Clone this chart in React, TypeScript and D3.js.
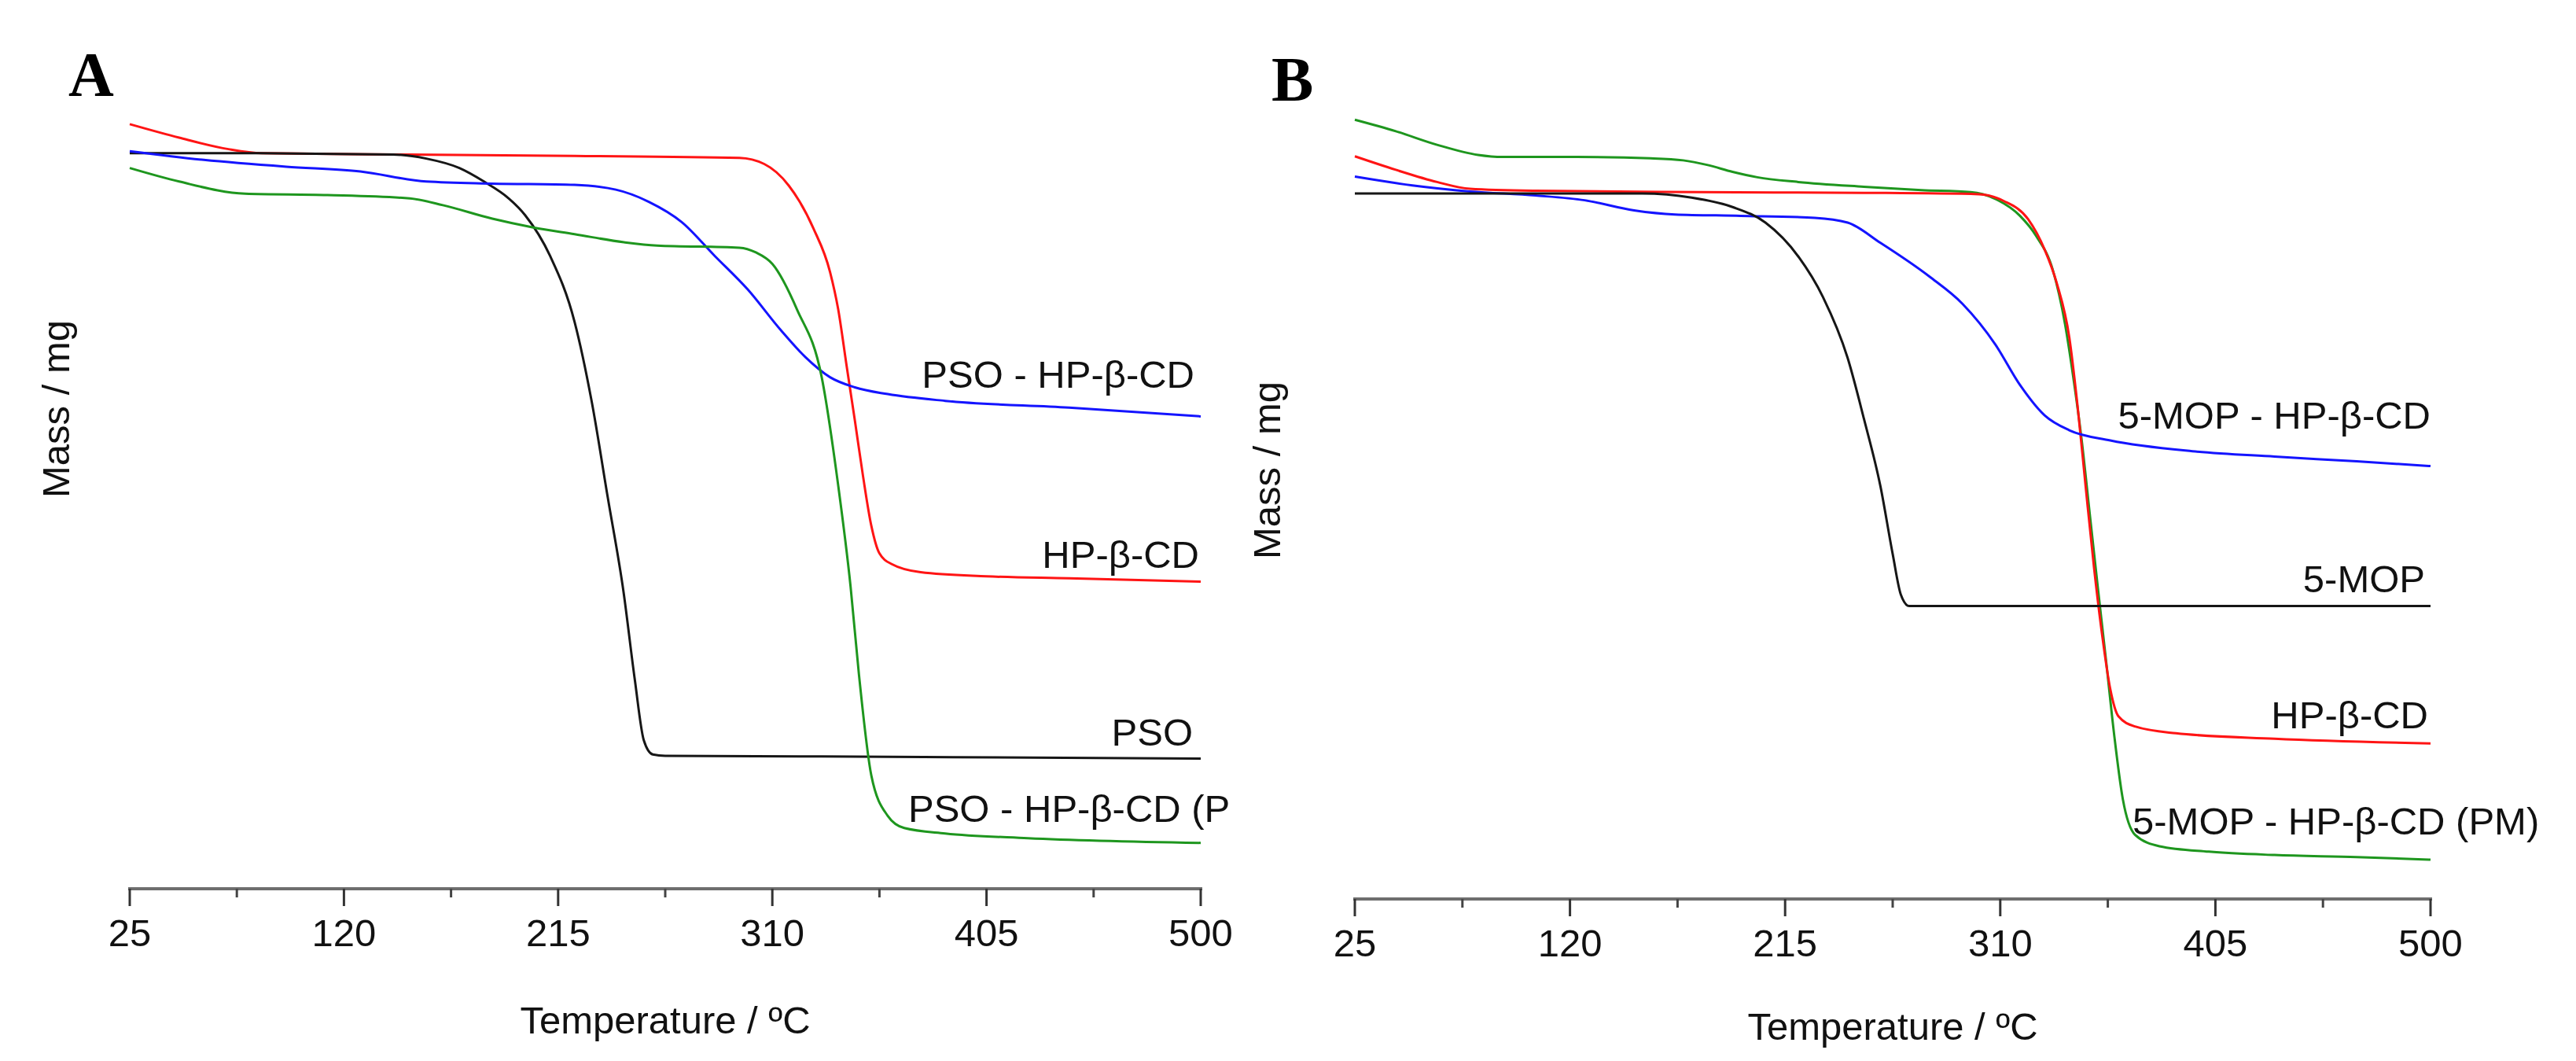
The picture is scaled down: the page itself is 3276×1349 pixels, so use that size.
import React from "react";
import * as d3 from "d3";

// ---- Temperature ticks (°C) ----
const majorTicks = [25, 120, 215, 310, 405, 500];
const minorTicks = [72.5, 167.5, 262.5, 357.5, 452.5];

// ---- Panel A: PSO ----
const tempA_HPBCD = [25, 46.9, 68.8, 83.5, 149.2, 222.3, 295.4, 306.4, 317.3, 328.3, 335.6, 339.2, 342.9, 346.6, 350.2, 353.9, 357.5, 363.0, 375.8, 405.0, 441.6, 500];
const massA_HPBCD = [113.3, 111.3, 109.6, 109.0, 108.8, 108.6, 108.3, 107.4, 104.2, 97.8, 91.4, 85.9, 77.6, 69.4, 61.2, 53.8, 49.7, 48.1, 46.9, 46.3, 46.0, 45.5];

const tempA_PSO = [25, 76.2, 141.9, 156.5, 171.2, 182.1, 193.1, 200.4, 211.4, 222.3, 230, 237, 244, 249, 253, 257, 262.5, 331.9, 500];
const massA_PSO = [109.0, 109.0, 108.8, 108.2, 106.8, 104.8, 102.3, 99.8, 93.8, 84.0, 72.0, 58.0, 44.0, 31.0, 22.0, 19.9, 19.7, 19.6, 19.3];

const tempA_Complex = [25, 57.9, 94.4, 127.3, 156.5, 185.8, 222.3, 240.6, 255.2, 269.8, 284.4, 299.1, 313.7, 324.6, 335.6, 346.6, 361.2, 386.7, 441.6, 500];
const massA_Complex = [109.3, 108.0, 107.0, 106.3, 104.8, 104.5, 104.3, 103.6, 101.8, 98.8, 93.8, 88.8, 82.8, 78.8, 75.8, 74.3, 73.3, 72.3, 71.3, 70.0];

const tempA_PM = [25, 46.9, 76.2, 112.7, 149.2, 163.9, 185.8, 204.0, 222.3, 244.2, 258.9, 295.4, 302.7, 310.0, 321.0, 331.9, 339.2, 344.7, 348.4, 353.9, 361.2, 368.5, 386.7, 423.3, 500];
const massA_PM = [106.8, 104.8, 103.0, 102.8, 102.3, 101.3, 99.3, 98.0, 97.0, 95.8, 95.3, 95.0, 94.3, 92.6, 85.8, 75.8, 59.8, 44.8, 31.8, 16.8, 10.8, 9.0, 8.2, 7.5, 6.8];

// ---- Panel B: 5-MOP ----
const tempB_PM = [25, 43.1, 61.3, 79.4, 90.3, 122.9, 155.5, 170.0, 180.9, 191.8, 202.7, 220.8, 249.8, 275.2, 296.9, 307.8, 318.7, 325.9, 333.2, 338.6, 342.3, 345.9, 349.5, 353.1, 356.8, 360.4, 364.0, 369.5, 380.3, 402.1, 431.1, 467.4, 500];
const massB_PM = [115.2, 113.5, 111.5, 110.0, 109.7, 109.7, 109.5, 109.2, 108.5, 107.5, 106.7, 106.0, 105.3, 104.8, 104.5, 103.5, 101.0, 98.0, 93.0, 85.0, 77.0, 68.0, 57.0, 46.0, 35.0, 24.0, 15.0, 9.5, 7.8, 7.0, 6.5, 6.2, 5.8];

const tempB_HPBCD = [25, 43.1, 61.3, 75.8, 104.8, 177.3, 249.8, 300.6, 311.5, 322.3, 329.6, 335.0, 340.5, 344.1, 347.7, 351.4, 355.0, 358.6, 362.2, 369.5, 387.6, 431.1, 500];
const massB_HPBCD = [109.8, 107.8, 106.0, 105.0, 104.7, 104.5, 104.4, 104.2, 103.2, 100.5, 96.0, 91.0, 83.0, 73.0, 61.0, 49.0, 39.0, 31.0, 27.0, 25.5, 24.5, 23.7, 23.0];

const tempB_Complex = [25, 50.4, 75.8, 104.8, 126.5, 148.3, 166.4, 195.4, 228.1, 242.6, 257.1, 278.8, 293.3, 307.8, 318.7, 329.6, 340.5, 358.6, 394.9, 431.1, 467.4, 500];
const massB_Complex = [106.8, 105.5, 104.6, 104.0, 103.3, 101.8, 101.2, 101.0, 100.7, 100.0, 97.0, 92.0, 88.0, 82.0, 76.0, 71.5, 69.3, 67.8, 66.2, 65.4, 64.7, 64.0];

const tempB_MOP = [25, 104.8, 151.9, 173.7, 191.8, 206.3, 220.8, 231.7, 242.6, 249.8, 257.1, 262.5, 266.1, 269.8, 358.6, 500];
const massB_MOP = [104.3, 104.3, 104.3, 103.7, 102.3, 100.0, 95.0, 89.0, 80.0, 71.0, 61.0, 51.0, 45.0, 43.3, 43.3, 43.3];

const RED = "#ff1414";
const BLUE = "#1414ff";
const GREEN = "#1e961e";
const BLACK = "#161616";
const FONT = "'Liberation Sans', Arial, sans-serif";
const FS = 49;

interface Series {
  temp: number[];
  mass: number[];
  color: string;
}

interface Label {
  text: string;
  x: number;
  y: number;
  anchor: "start" | "end";
}

interface PanelProps {
  id: string;
  letter: string;
  letterX: number;
  letterY: number;
  letterAnchor: "start" | "middle";
  x0: number;
  x1: number;
  yAxis: number;
  yTop: number;
  tickLen: number;
  tickLabelY: number;
  titleY: number;
  massX: number;
  massY: number;
  clipRight: number;
  series: Series[];
  labels: Label[];
}

function Panel(p: PanelProps) {
  const x = d3.scaleLinear().domain([25, 500]).range([p.x0, p.x1]);
  const y = d3.scaleLinear().domain([0, 100]).range([p.yAxis, p.yTop]);
  const line = d3
    .line<[number, number]>()
    .x((d) => x(d[0]))
    .y((d) => y(d[1]))
    .curve(d3.curveMonotoneX);

  return (
    <g fontFamily={FONT}>
      <defs>
        <clipPath id={`clip-${p.id}`}>
          <rect x={0} y={0} width={p.clipRight} height={1349} />
        </clipPath>
      </defs>
      <text
        x={p.letterX}
        y={p.letterY}
        fontFamily="'Liberation Serif', 'Times New Roman', serif"
        fontWeight="bold"
        fontSize={80}
        textAnchor={p.letterAnchor}
        fill="#000"
      >
        {p.letter}
      </text>

      {p.series.map((s, i) => (
        <path
          key={i}
          d={line(s.temp.map((t, j) => [t, s.mass[j]] as [number, number])) || ""}
          fill="none"
          stroke={s.color}
          strokeWidth={3}
          strokeLinejoin="round"
        />
      ))}

      {/* x axis */}
      <line x1={x(25) - 2} x2={x(500) + 2} y1={p.yAxis} y2={p.yAxis} stroke="#6e6e6e" strokeWidth={4} />
      {majorTicks.map((t) => (
        <g key={t}>
          <line x1={x(t)} x2={x(t)} y1={p.yAxis} y2={p.yAxis + p.tickLen} stroke="#333" strokeWidth={3} />
          <text x={x(t)} y={p.tickLabelY} textAnchor="middle" fontSize={FS} fill="#111">
            {t}
          </text>
        </g>
      ))}
      {minorTicks.map((t) => (
        <line key={t} x1={x(t)} x2={x(t)} y1={p.yAxis} y2={p.yAxis + p.tickLen / 2} stroke="#444" strokeWidth={3} />
      ))}
      <text x={(p.x0 + p.x1) / 2} y={p.titleY} textAnchor="middle" fontSize={FS} fill="#111">
        Temperature / ºC
      </text>
      <text
        transform={`translate(${p.massX},${p.massY}) rotate(-90)`}
        textAnchor="middle"
        fontSize={FS}
        fill="#111"
      >
        Mass / mg
      </text>

      <g clipPath={`url(#clip-${p.id})`}>
        {p.labels.map((l) => (
          <text key={l.text} x={l.x} y={l.y} textAnchor={l.anchor} fontSize={FS} fill="#111">
            {l.text}
          </text>
        ))}
      </g>
    </g>
  );
}

export default function App() {
  return (
    <svg
      width={3276}
      height={1349}
      style={{ position: "absolute", left: 0, top: 0, background: "#fff" }}
    >
      <Panel
        id="a"
        letter="A"
        letterX={116}
        letterY={122}
        letterAnchor="middle"
        x0={165}
        x1={1527}
        yAxis={1130}
        yTop={272}
        tickLen={22}
        tickLabelY={1203}
        titleY={1314}
        massX={88}
        massY={520}
        clipRight={1567}
        series={[
          { temp: tempA_HPBCD, mass: massA_HPBCD, color: RED },
          { temp: tempA_PSO, mass: massA_PSO, color: BLACK },
          { temp: tempA_Complex, mass: massA_Complex, color: BLUE },
          { temp: tempA_PM, mass: massA_PM, color: GREEN },
        ]}
        labels={[
          { text: "PSO - HP-β-CD", x: 1519, y: 493, anchor: "end" },
          { text: "HP-β-CD", x: 1525, y: 722, anchor: "end" },
          { text: "PSO", x: 1517, y: 948, anchor: "end" },
          { text: "PSO - HP-β-CD (PM)", x: 1155, y: 1045, anchor: "start" },
        ]}
      />
      <Panel
        id="b"
        letter="B"
        letterX={1617}
        letterY={128}
        letterAnchor="start"
        x0={1723}
        x1={3091}
        yAxis={1143}
        yTop={283}
        tickLen={22}
        tickLabelY={1216}
        titleY={1322}
        massX={1628}
        massY={598}
        clipRight={3276}
        series={[
          { temp: tempB_PM, mass: massB_PM, color: GREEN },
          { temp: tempB_HPBCD, mass: massB_HPBCD, color: RED },
          { temp: tempB_Complex, mass: massB_Complex, color: BLUE },
          { temp: tempB_MOP, mass: massB_MOP, color: BLACK },
        ]}
        labels={[
          { text: "5-MOP - HP-β-CD", x: 3091, y: 545, anchor: "end" },
          { text: "5-MOP", x: 3084, y: 753, anchor: "end" },
          { text: "HP-β-CD", x: 3088, y: 926, anchor: "end" },
          { text: "5-MOP - HP-β-CD (PM)", x: 2712, y: 1061, anchor: "start" },
        ]}
      />
    </svg>
  );
}
